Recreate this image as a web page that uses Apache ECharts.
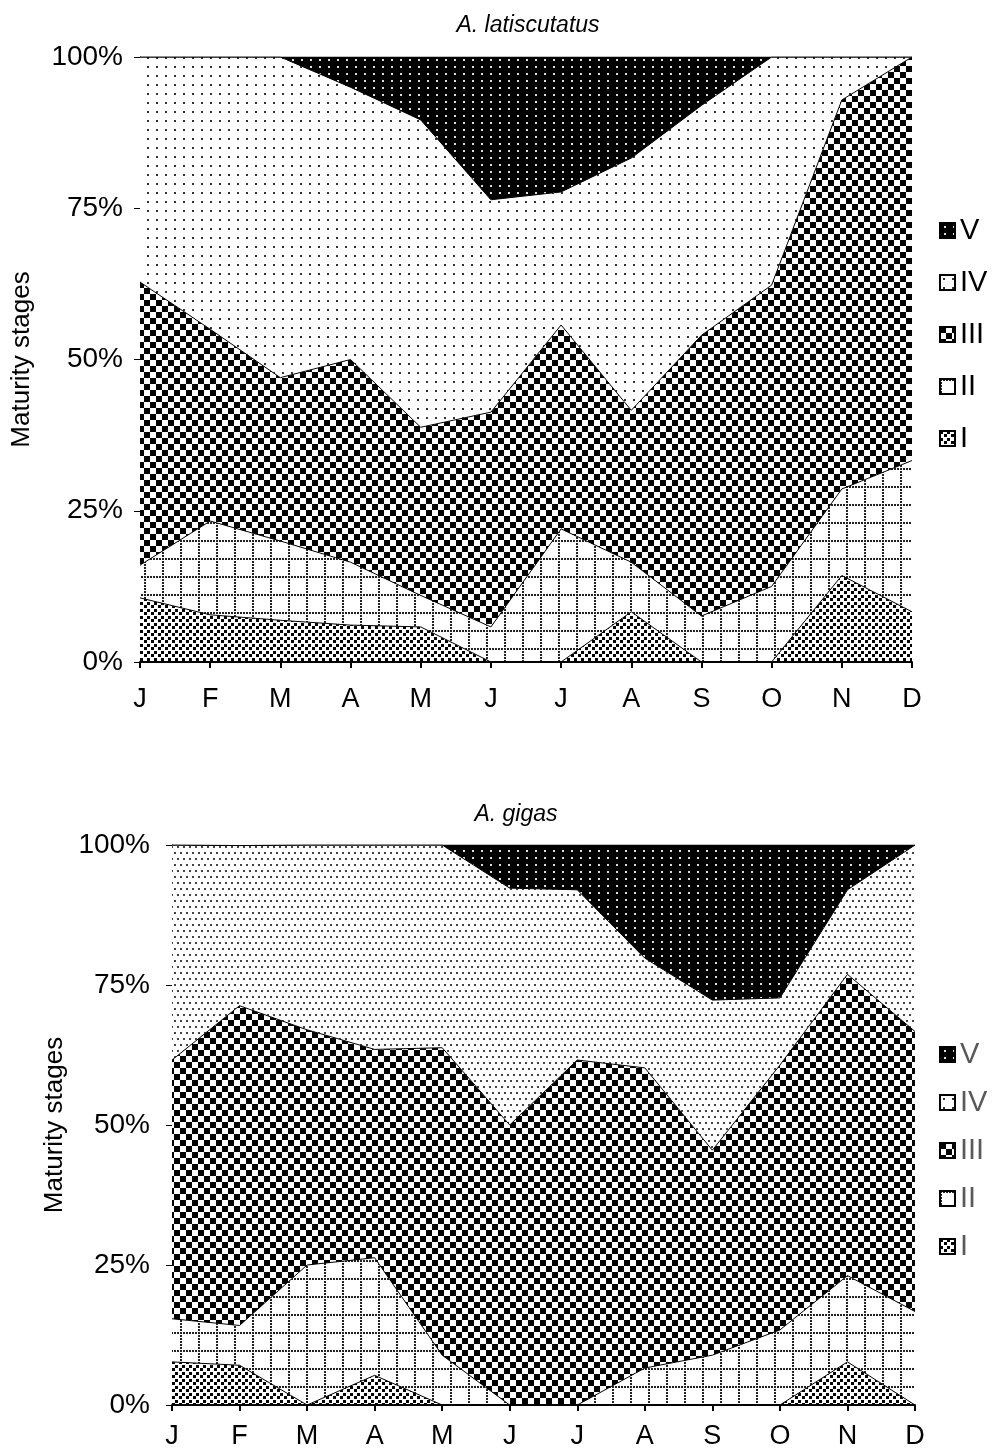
<!DOCTYPE html>
<html>
<head>
<meta charset="utf-8">
<script src="https://cdn.jsdelivr.net/npm/echarts@6/dist/echarts.min.js"></script>
<style>
  html, body { margin: 0; padding: 0; background: #fff; }
  #main { width: 992px; height: 1450px; }
</style>
</head>
<body>
<div id="main"></div>
<script>
// months
const months = ['J', 'F', 'M', 'A', 'M', 'J', 'J', 'A', 'S', 'O', 'N', 'D']
const stages = ['I', 'II', 'III', 'IV', 'V']
const yTicks = [0, 25, 50, 75, 100]

// A. latiscutatus, % per maturity stage
const latI = [10.6, 7.8, 6.9, 6.1, 5.8, 0, 0, 8.3, 0, 0, 14.3, 8.3]
const latII = [5.4, 15.5, 13.1, 10.4, 5.2, 5.8, 22, 8.2, 7.6, 12.5, 14.3, 25]
const latIII = [46.8, 31.7, 27, 33.5, 27.8, 35.5, 33.7, 25.1, 46.4, 49.8, 64.3, 66.7]
const latIV = [37.2, 45, 53, 45, 50.8, 35.1, 22, 41.7, 38, 37.7, 7.1, 0]
const latV = [0, 0, 0, 5, 10.4, 23.6, 22.3, 16.7, 8, 0, 0, 0]

// A. gigas, % per maturity stage
const gigI = [7.7, 7.1, 0, 5.3, 0, 0, 0, 0, 0, 0, 7.7, 0]
const gigII = [7.7, 7.1, 25, 21, 8.9, 0, 0, 6.6, 8.9, 13.4, 15.4, 16.7]
const gigIII = [46.2, 57.1, 42, 37.2, 54.9, 50, 61.6, 53.6, 36.6, 47.3, 53.8, 50]
const gigIV = [38.4, 28.6, 33, 36.5, 36.2, 42.3, 30.4, 19.6, 26.8, 12, 15.1, 33.3]
const gigV = [0, 0, 0, 0, 0, 7.7, 8, 20.2, 27.7, 27.3, 8, 0]

// --- fill patterns (black & white, like the original print) ---
const makeTile = (w, h, bg, draw) => {
  const c = document.createElement('canvas')
  c.width = w
  c.height = h
  const ctx = c.getContext('2d')
  ctx.fillStyle = bg
  ctx.fillRect(0, 0, w, h)
  draw(ctx)
  return { image: c, repeat: 'repeat' }
}

// stage I: scattered black squares
const patI = makeTile(7, 7, '#fff', (ctx) => {
  ctx.fillStyle = '#000'
  ctx.fillRect(0, 0, 3, 3)
  ctx.fillRect(4, 3, 3, 3)
})
// stage II: dotted grid
const patII = makeTile(18, 18, '#fff', (ctx) => {
  ctx.fillStyle = '#222'
  for (let i = 0; i < 18; i += 3) {
    ctx.fillRect(i, 0, 2, 2)
    ctx.fillRect(0, i, 2, 2)
  }
})
// stage III: checkerboard
const patIII = makeTile(12, 12, '#fff', (ctx) => {
  ctx.fillStyle = '#000'
  ctx.fillRect(0, 0, 6, 6)
  ctx.fillRect(6, 6, 6, 6)
})
// stage IV: light dots (sparse for top, denser for bottom)
const patIVa = makeTile(9, 9, '#fff', (ctx) => {
  ctx.fillStyle = '#333'
  ctx.fillRect(3, 3, 2, 2)
})
const patIVb = makeTile(12, 12, '#fff', (ctx) => {
  ctx.fillStyle = '#444'
  ctx.fillRect(0, 0, 2, 2)
  ctx.fillRect(6, 0, 2, 2)
  ctx.fillRect(3, 6, 2, 2)
  ctx.fillRect(9, 6, 2, 2)
})
// stage V: black with white dots
const patV = makeTile(9, 7, '#000', (ctx) => {
  ctx.fillStyle = '#ddd'
  ctx.fillRect(4, 3, 2, 2)
})

const font = 'Liberation Sans, Arial, sans-serif'

const buildSeries = (idx, data, pats) => stages.map((name, i) => ({
  name,
  type: 'line',
  xAxisIndex: idx,
  yAxisIndex: idx,
  stack: 'total' + idx,
  data: data[i],
  symbol: 'none',
  smooth: false,
  lineStyle: { color: '#000', width: 1 },
  itemStyle: { color: pats[i], borderColor: '#000', borderWidth: 1 },
  areaStyle: { color: pats[i], opacity: 1 },
  emphasis: { disabled: true },
}))

const xAxisOf = (gi, margin) => ({
  type: 'category',
  gridIndex: gi,
  data: months,
  boundaryGap: false,
  axisLine: { show: true, lineStyle: { color: '#000', width: 2 } },
  axisTick: { show: true, alignWithLabel: true, length: 6, lineStyle: { color: '#000', width: 2 } },
  axisLabel: { color: '#000', fontSize: 27, fontFamily: font, margin },
  splitLine: { show: false },
  z: 10,
})

const yAxisOf = (gi, nameGap, margin) => ({
  type: 'value',
  gridIndex: gi,
  min: yTicks[0],
  max: yTicks[yTicks.length - 1],
  interval: 25,
  name: 'Maturity stages',
  nameLocation: 'middle',
  nameGap,
  nameTextStyle: { color: '#000', fontSize: 26, fontFamily: font },
  axisLine: { show: true, lineStyle: { color: '#000', width: 1 } },
  axisTick: { show: true, length: 6, lineStyle: { color: '#000' } },
  axisLabel: { color: '#000', fontSize: 28, fontFamily: font, formatter: '{value}%', margin },
  splitLine: { show: false },
})

const legendOf = (top, gap, color) => ({
  orient: 'vertical',
  left: 934,
  top,
  itemGap: gap,
  itemWidth: 15,
  itemHeight: 15,
  icon: 'rect',
  data: stages.slice().reverse(),
  textStyle: { color, fontSize: 29, fontFamily: font, padding: [0, 0, 0, 0] },
  selectedMode: false,
})

const chart = echarts.init(document.getElementById('main'))

const option = {
  animation: false,
  backgroundColor: '#fff',
  title: [
    { text: 'A. latiscutatus', left: 523, top: 9, textAlign: 'center',
      textStyle: { fontStyle: 'italic', fontWeight: 'normal', fontSize: 23, fontFamily: font, color: '#000' } },
    { text: 'A. gigas', left: 511, top: 798, textAlign: 'center',
      textStyle: { fontStyle: 'italic', fontWeight: 'normal', fontSize: 23, fontFamily: font, color: '#000' } },
  ],
  legend: [
    legendOf(211, 23, '#000'),
    legendOf(1035, 19, '#595959'),
  ],
  grid: [
    { left: 140, width: 772, top: 57, height: 605, outerBoundsMode: 'none' },
    { left: 172, width: 743, top: 845, height: 560, outerBoundsMode: 'none' },
  ],
  xAxis: [xAxisOf(0, 24), xAxisOf(1, 18)],
  yAxis: [yAxisOf(0, 105, 17), yAxisOf(1, 102, 22)],
  series: [
    ...buildSeries(0, [latI, latII, latIII, latIV, latV], [patI, patII, patIII, patIVa, patV]),
    ...buildSeries(1, [gigI, gigII, gigIII, gigIV, gigV], [patI, patII, patIII, patIVb, patV]),
  ],
}

chart.setOption(option)
</script>
</body>
</html>
